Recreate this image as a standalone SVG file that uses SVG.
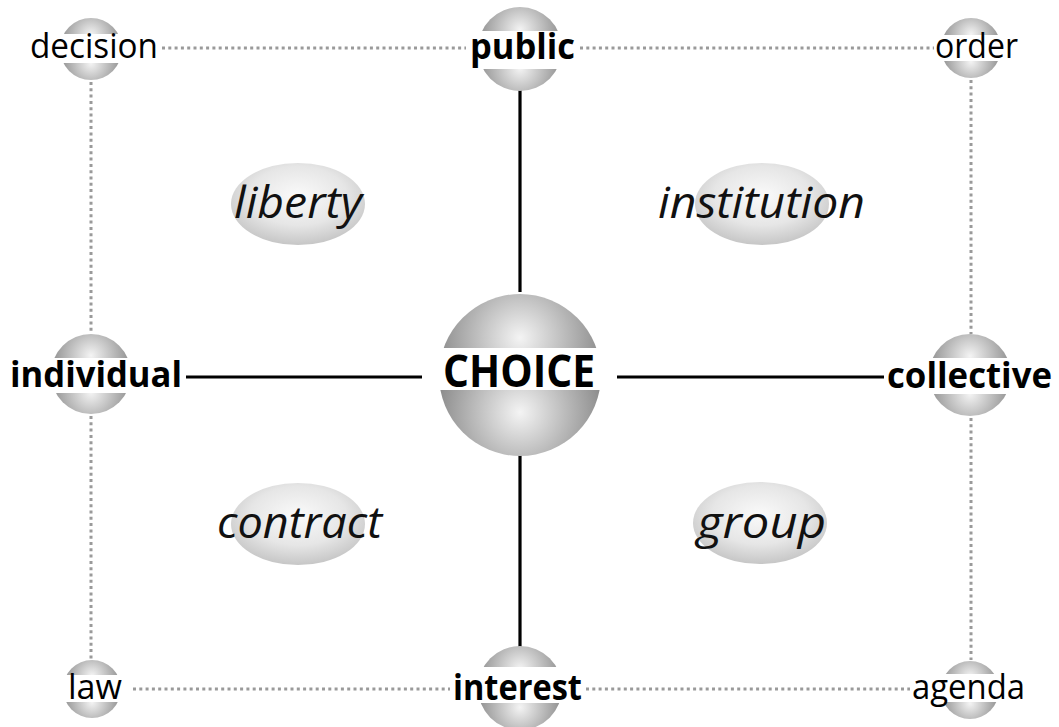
<svg xmlns="http://www.w3.org/2000/svg" width="1059" height="727" viewBox="0 0 1059 727">
<style>
.dot{stroke:#9a9a9a;stroke-width:3;stroke-dasharray:3 3.3;fill:none}
.solid{stroke:#000;stroke-width:3.2;fill:none}
.band{fill:#fff}
.reg{font-family:"Open Sans","Noto Sans",sans-serif;font-size:35px;fill:#000}
.bold{font-family:"Open Sans","Noto Sans",sans-serif;font-size:35px;font-weight:bold;fill:#000}
.big{font-family:"Open Sans","Noto Sans",sans-serif;font-size:45px;font-weight:bold;fill:#000}
.ital{font-family:"Open Sans","Noto Sans",sans-serif;font-size:44px;font-style:italic;fill:#111}
</style>
<defs>
<radialGradient id="gTop" cx="0.5" cy="0.27" r="0.6" fx="0.5" fy="0.27">
<stop offset="0" stop-color="#f4f4f4"/>
<stop offset="0.45" stop-color="#bdbdbd"/>
<stop offset="1" stop-color="#7a7a7a"/>
</radialGradient>
<radialGradient id="gBot" cx="0.5" cy="0.73" r="0.6" fx="0.5" fy="0.73">
<stop offset="0" stop-color="#f4f4f4"/>
<stop offset="0.45" stop-color="#bdbdbd"/>
<stop offset="1" stop-color="#7a7a7a"/>
</radialGradient>
<radialGradient id="gEl" cx="0.5" cy="0.4" r="0.6">
<stop offset="0" stop-color="#fafafa"/>
<stop offset="0.6" stop-color="#e6e6e6"/>
<stop offset="1" stop-color="#c6c6c6"/>
</radialGradient>
<clipPath id="cTop" clipPathUnits="objectBoundingBox"><rect x="0" y="0" width="1" height="0.5"/></clipPath>
<clipPath id="cBot" clipPathUnits="objectBoundingBox"><rect x="0" y="0.5" width="1" height="0.5"/></clipPath>
</defs>
<rect width="1059" height="727" fill="#fff"/>

<g id="connectors">
<line class="dot" x1="162" y1="48" x2="466" y2="48"/>
<line class="dot" x1="580" y1="48" x2="934" y2="48"/>
<line class="dot" x1="133" y1="689" x2="450" y2="689"/>
<line class="dot" x1="586" y1="689" x2="910" y2="689"/>
<line class="dot" x1="91" y1="82" x2="91" y2="334"/>
<line class="dot" x1="91" y1="416" x2="91" y2="660"/>
<line class="dot" x1="971" y1="80" x2="971" y2="334"/>
<line class="dot" x1="971" y1="418" x2="971" y2="660"/>
<line class="solid" x1="520" y1="90" x2="520" y2="292"/>
<line class="solid" x1="520" y1="455" x2="520" y2="647"/>
<line class="solid" x1="186" y1="377" x2="422" y2="377"/>
<line class="solid" x1="617" y1="377" x2="884" y2="377"/>
</g>

<g id="liberty">
<ellipse cx="298" cy="204" rx="67" ry="41" fill="url(#gEl)"/>
<text class="ital" x="234" y="218" textLength="128" lengthAdjust="spacingAndGlyphs">liberty</text>
</g>
<g id="institution">
<ellipse cx="762" cy="204" rx="67" ry="41" fill="url(#gEl)"/>
<text class="ital" x="658" y="218" textLength="207" lengthAdjust="spacingAndGlyphs">institution</text>
</g>
<g id="contract">
<ellipse cx="298" cy="524" rx="67" ry="41" fill="url(#gEl)"/>
<text class="ital" x="217" y="538" textLength="165" lengthAdjust="spacingAndGlyphs">contract</text>
</g>
<g id="group">
<ellipse cx="760" cy="523" rx="67" ry="41" fill="url(#gEl)"/>
<text class="ital" x="697" y="538" textLength="129" lengthAdjust="spacingAndGlyphs">group</text>
</g>

<g id="decision">
<circle cx="91" cy="49" r="31" fill="url(#gTop)" clip-path="url(#cTop)"/>
<circle cx="91" cy="49" r="31" fill="url(#gBot)" clip-path="url(#cBot)"/>
<rect class="band" x="55" y="34" width="72" height="29"/>
<text class="reg" x="30" y="58" textLength="128" lengthAdjust="spacingAndGlyphs">decision</text>
</g>
<g id="public">
<circle cx="520" cy="49" r="42" fill="url(#gTop)" clip-path="url(#cTop)"/>
<circle cx="520" cy="49" r="42" fill="url(#gBot)" clip-path="url(#cBot)"/>
<rect class="band" x="474" y="31" width="92" height="38"/>
<text class="bold" x="470" y="59" textLength="105" lengthAdjust="spacingAndGlyphs">public</text>
</g>
<g id="order">
<circle cx="971" cy="48" r="30" fill="url(#gTop)" clip-path="url(#cTop)"/>
<circle cx="971" cy="48" r="30" fill="url(#gBot)" clip-path="url(#cBot)"/>
<rect class="band" x="937" y="35" width="68" height="26"/>
<text class="reg" x="935" y="58" textLength="83" lengthAdjust="spacingAndGlyphs">order</text>
</g>
<g id="individual">
<circle cx="91" cy="374" r="40" fill="url(#gTop)" clip-path="url(#cTop)"/>
<circle cx="91" cy="374" r="40" fill="url(#gBot)" clip-path="url(#cBot)"/>
<rect class="band" x="47" y="358" width="88" height="35"/>
<text class="bold" x="10" y="387" textLength="172" lengthAdjust="spacingAndGlyphs">individual</text>
</g>
<g id="choice">
<circle cx="520" cy="375" r="81" fill="url(#gTop)" clip-path="url(#cTop)"/>
<circle cx="520" cy="375" r="81" fill="url(#gBot)" clip-path="url(#cBot)"/>
<rect class="band" x="435" y="348" width="170" height="42"/>
<text class="big" x="443" y="387" textLength="152" lengthAdjust="spacingAndGlyphs">CHOICE</text>
</g>
<g id="collective">
<circle cx="970" cy="375" r="41" fill="url(#gTop)" clip-path="url(#cTop)"/>
<circle cx="970" cy="375" r="41" fill="url(#gBot)" clip-path="url(#cBot)"/>
<rect class="band" x="925" y="358" width="90" height="36"/>
<text class="bold" x="887" y="388" textLength="165" lengthAdjust="spacingAndGlyphs">collective</text>
</g>
<g id="law">
<circle cx="92" cy="689" r="29" fill="url(#gTop)" clip-path="url(#cTop)"/>
<circle cx="92" cy="689" r="29" fill="url(#gBot)" clip-path="url(#cBot)"/>
<rect class="band" x="60" y="675" width="64" height="27"/>
<text class="reg" x="68" y="699" textLength="54" lengthAdjust="spacingAndGlyphs">law</text>
</g>
<g id="interest">
<circle cx="520" cy="688" r="42" fill="url(#gTop)" clip-path="url(#cTop)"/>
<circle cx="520" cy="688" r="42" fill="url(#gBot)" clip-path="url(#cBot)"/>
<rect class="band" x="474" y="667" width="92" height="36"/>
<text class="bold" x="453" y="700" textLength="129" lengthAdjust="spacingAndGlyphs">interest</text>
</g>
<g id="agenda">
<circle cx="970" cy="690" r="29" fill="url(#gTop)" clip-path="url(#cTop)"/>
<circle cx="970" cy="690" r="29" fill="url(#gBot)" clip-path="url(#cBot)"/>
<rect class="band" x="938" y="674" width="64" height="28"/>
<text class="reg" x="912" y="699" textLength="113" lengthAdjust="spacingAndGlyphs">agenda</text>
</g>
</svg>
